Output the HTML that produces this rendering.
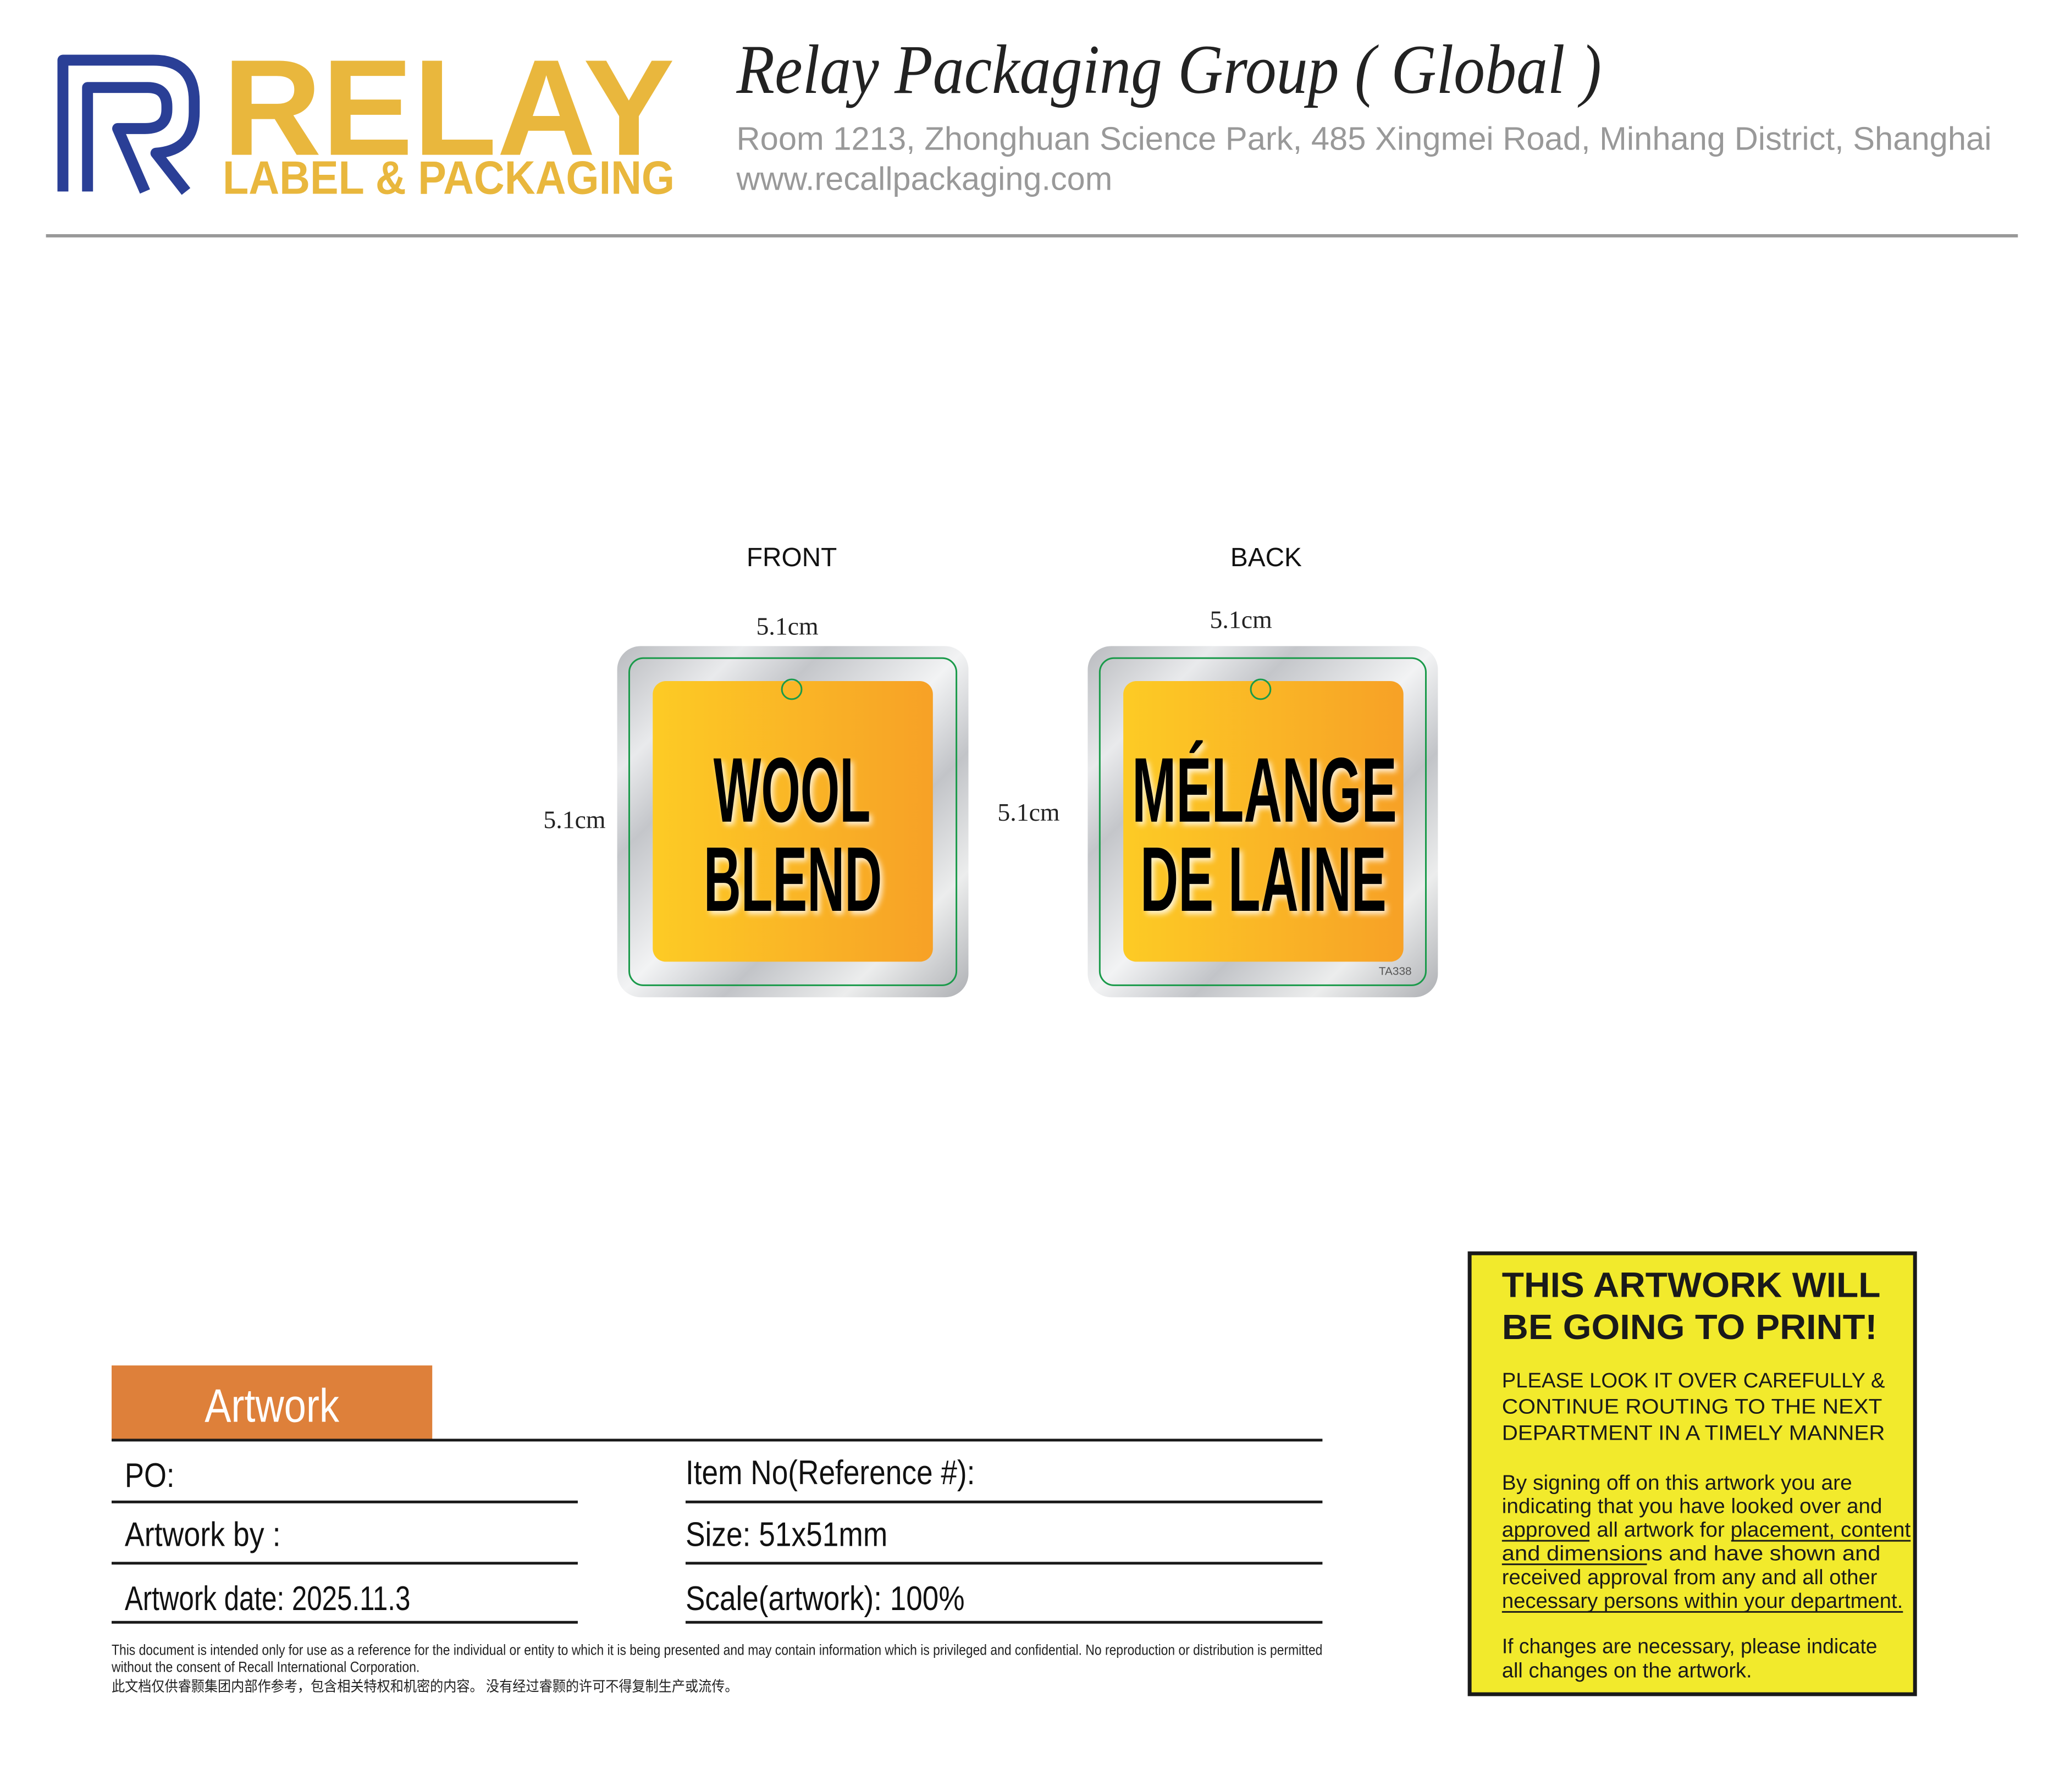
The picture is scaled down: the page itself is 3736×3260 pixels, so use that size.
<!DOCTYPE html>
<html><head><meta charset="utf-8"><style>html,body{margin:0;padding:0;background:#fff}svg{display:block}</style></head>
<body>
<svg width="3736" height="3260" viewBox="0 0 3736 3260" xmlns="http://www.w3.org/2000/svg">
<defs>
<linearGradient id="silver" x1="0" y1="0" x2="1" y2="1">
<stop offset="0" stop-color="#b9bbbf"/><stop offset="0.18" stop-color="#e9eaec"/><stop offset="0.3" stop-color="#c4c6ca"/>
<stop offset="0.5" stop-color="#f2f3f4"/><stop offset="0.65" stop-color="#c2c4c8"/><stop offset="0.82" stop-color="#eceded"/><stop offset="1" stop-color="#aeb0b4"/>
</linearGradient>
<linearGradient id="orange" x1="0" y1="0" x2="1" y2="0">
<stop offset="0" stop-color="#fdcb25"/><stop offset="1" stop-color="#f7a126"/>
</linearGradient>
<filter id="glow" x="-20%" y="-20%" width="140%" height="140%">
<feGaussianBlur stdDeviation="5"/>
</filter>
</defs>
<g transform="scale(0.9952)">
<!-- Logo R -->
<g fill="none" stroke="#2a3f96" stroke-width="20" stroke-linejoin="round">
<path d="M115 350 V110 H280 Q355 110 355 185 V205 Q355 275 285 280 L340 350"/>
<path d="M160 350 V160 H270 Q305 160 305 195 V200 Q305 235 265 235 H215 L265 350"/>
</g>
<text x="407" y="283" font-family="Liberation Sans" font-weight="bold" font-size="250" fill="#e9b73d" textLength="826" lengthAdjust="spacingAndGlyphs">RELAY</text>
<text x="407" y="354" font-family="Liberation Sans" font-weight="bold" font-size="86" fill="#e9b73d" textLength="826" lengthAdjust="spacingAndGlyphs">LABEL &amp; PACKAGING</text>

<text x="1346" y="170" font-family="Liberation Serif" font-style="italic" font-size="128" fill="#222" textLength="1581" lengthAdjust="spacingAndGlyphs">Relay Packaging Group ( Global )</text>
<text x="1346" y="274" font-family="Liberation Sans" font-size="60" fill="#999" textLength="2294" lengthAdjust="spacingAndGlyphs">Room 1213, Zhonghuan Science Park, 485 Xingmei Road, Minhang District, Shanghai</text>
<text x="1346" y="347" font-family="Liberation Sans" font-size="60" fill="#999" textLength="687" lengthAdjust="spacingAndGlyphs">www.recallpackaging.com</text>
<rect x="84" y="428" width="3604" height="6" fill="#999"/>

<text x="1447" y="1035" text-anchor="middle" font-family="Liberation Sans" font-size="48" fill="#111">FRONT</text>
<text x="2314" y="1035" text-anchor="middle" font-family="Liberation Sans" font-size="48" fill="#111">BACK</text>
<text x="1439" y="1160" text-anchor="middle" font-family="Liberation Serif" font-size="46" fill="#222">5.1cm</text>
<text x="2268" y="1148" text-anchor="middle" font-family="Liberation Serif" font-size="46" fill="#222">5.1cm</text>
<text x="1050" y="1514" text-anchor="middle" font-family="Liberation Serif" font-size="46" fill="#222">5.1cm</text>
<text x="1880" y="1500" text-anchor="middle" font-family="Liberation Serif" font-size="46" fill="#222">5.1cm</text>

<rect x="1128" y="1181" width="642" height="642" rx="43" fill="url(#silver)"/>
<rect x="1150" y="1203" width="598" height="598" rx="26" fill="none" stroke="#1a9a4a" stroke-width="3"/>
<rect x="1193" y="1245" width="512" height="513" rx="24" fill="url(#orange)"/>
<circle cx="1447" cy="1260" r="18" fill="none" stroke="#1a9a4a" stroke-width="3"/>
<g font-family="Liberation Sans" font-weight="bold" font-size="168">
<g fill="#fff" filter="url(#glow)" transform="translate(5,6)" opacity="0.8">
<text x="1304" y="1502" textLength="287" lengthAdjust="spacingAndGlyphs">WOOL</text>
<text x="1286" y="1665" textLength="326" lengthAdjust="spacingAndGlyphs">BLEND</text>
</g>
<text x="1304" y="1502" fill="#000" textLength="287" lengthAdjust="spacingAndGlyphs">WOOL</text>
<text x="1286" y="1665" fill="#000" textLength="326" lengthAdjust="spacingAndGlyphs">BLEND</text>
</g>

<rect x="1988" y="1181" width="640" height="642" rx="43" fill="url(#silver)"/>
<rect x="2010" y="1203" width="596" height="598" rx="26" fill="none" stroke="#1a9a4a" stroke-width="3"/>
<rect x="2053" y="1245" width="512" height="513" rx="24" fill="url(#orange)"/>
<circle cx="2304" cy="1260" r="18" fill="none" stroke="#1a9a4a" stroke-width="3"/>
<g font-family="Liberation Sans" font-weight="bold" font-size="168">
<g fill="#fff" filter="url(#glow)" transform="translate(5,6)" opacity="0.8">
<text x="2069" y="1502" textLength="484" lengthAdjust="spacingAndGlyphs">MÉLANGE</text>
<text x="2084" y="1665" textLength="450" lengthAdjust="spacingAndGlyphs">DE LAINE</text>
</g>
<text x="2069" y="1502" fill="#000" textLength="484" lengthAdjust="spacingAndGlyphs">MÉLANGE</text>
<text x="2084" y="1665" fill="#000" textLength="450" lengthAdjust="spacingAndGlyphs">DE LAINE</text>
</g>
<text x="2520" y="1782" font-family="Liberation Sans" font-size="20" fill="#555" textLength="60" lengthAdjust="spacingAndGlyphs">TA338</text>

<rect x="204" y="2496" width="586" height="136" fill="#de803a"/>
<text x="374" y="2599" font-family="Liberation Sans" font-size="86" fill="#fff" textLength="246" lengthAdjust="spacingAndGlyphs">Artwork</text>
<rect x="204" y="2630" width="2213" height="5" fill="#1a1a1a"/>
<g fill="#1a1a1a">
<rect x="204" y="2743" width="852" height="5"/><rect x="1253" y="2743" width="1164" height="5"/>
<rect x="204" y="2855" width="852" height="5"/><rect x="1253" y="2855" width="1164" height="5"/>
<rect x="204" y="2963" width="852" height="5"/><rect x="1253" y="2963" width="1164" height="5"/>
</g>
<g font-family="Liberation Sans" font-size="62" fill="#111">
<text x="228" y="2718" textLength="91" lengthAdjust="spacingAndGlyphs">PO:</text>
<text x="1253" y="2713" textLength="529" lengthAdjust="spacingAndGlyphs">Item No(Reference #):</text>
<text x="228" y="2826" textLength="285" lengthAdjust="spacingAndGlyphs">Artwork by :</text>
<text x="1253" y="2826" textLength="369" lengthAdjust="spacingAndGlyphs">Size: 51x51mm</text>
<text x="228" y="2943" textLength="522" lengthAdjust="spacingAndGlyphs">Artwork date: 2025.11.3</text>
<text x="1253" y="2943" textLength="510" lengthAdjust="spacingAndGlyphs">Scale(artwork): 100%</text>
</g>
<g font-family="Liberation Sans, Noto Sans CJK SC, sans-serif" font-size="27" fill="#222">
<text x="204" y="3025" textLength="2213" lengthAdjust="spacingAndGlyphs">This document is intended only for use as a reference for the individual or entity to which it is being presented and may contain information which is privileged and confidential. No reproduction or distribution is permitted</text>
<text x="204" y="3056" textLength="563" lengthAdjust="spacingAndGlyphs">without the consent of Recall International Corporation.</text>
<text x="204" y="3092" font-family="Noto Sans CJK SC, sans-serif" textLength="1145" lengthAdjust="spacingAndGlyphs">此文档仅供睿颢集团内部作参考，包含相关特权和机密的内容。 没有经过睿颢的许可不得复制生产或流传。</text>
</g>

<rect x="2686" y="2291" width="814" height="806" fill="#f2ea2c" stroke="#1a1a1a" stroke-width="7"/>
<g font-family="Liberation Sans" font-weight="bold" font-size="64" fill="#1a1a1a">
<text x="2745" y="2371" textLength="692" lengthAdjust="spacingAndGlyphs">THIS ARTWORK WILL</text>
<text x="2745" y="2448" textLength="686" lengthAdjust="spacingAndGlyphs">BE GOING TO PRINT!</text>
</g>
<g font-family="Liberation Sans" font-size="38" fill="#1a1a1a">
<text x="2745" y="2536" textLength="700" lengthAdjust="spacingAndGlyphs">PLEASE LOOK IT OVER CAREFULLY &amp;</text>
<text x="2745" y="2584" textLength="695" lengthAdjust="spacingAndGlyphs">CONTINUE ROUTING TO THE NEXT</text>
<text x="2745" y="2632" textLength="700" lengthAdjust="spacingAndGlyphs">DEPARTMENT IN A TIMELY MANNER</text>
<text x="2745" y="2723" textLength="640" lengthAdjust="spacingAndGlyphs">By signing off on this artwork you are</text>
<text x="2745" y="2766" textLength="695" lengthAdjust="spacingAndGlyphs">indicating that you have looked over and</text>
<text x="2745" y="2809" textLength="747" lengthAdjust="spacingAndGlyphs">approved all artwork for placement, content</text>
<text x="2745" y="2852" textLength="692" lengthAdjust="spacingAndGlyphs">and dimensions and have shown and</text>
<text x="2745" y="2896" textLength="686" lengthAdjust="spacingAndGlyphs">received approval from any and all other</text>
<text x="2745" y="2939" textLength="733" lengthAdjust="spacingAndGlyphs">necessary persons within your department.</text>
<text x="2745" y="3022" textLength="686" lengthAdjust="spacingAndGlyphs">If changes are necessary, please indicate</text>
<text x="2745" y="3066" textLength="457" lengthAdjust="spacingAndGlyphs">all changes on the artwork.</text>
</g>
<g fill="#1a1a1a">
<rect x="2745" y="2815" width="160" height="3"/><rect x="3164" y="2815" width="328" height="3"/>
<rect x="2745" y="2858" width="265" height="3"/><rect x="2745" y="2945" width="733" height="3"/>
</g>
</g>
</svg>
</body></html>
